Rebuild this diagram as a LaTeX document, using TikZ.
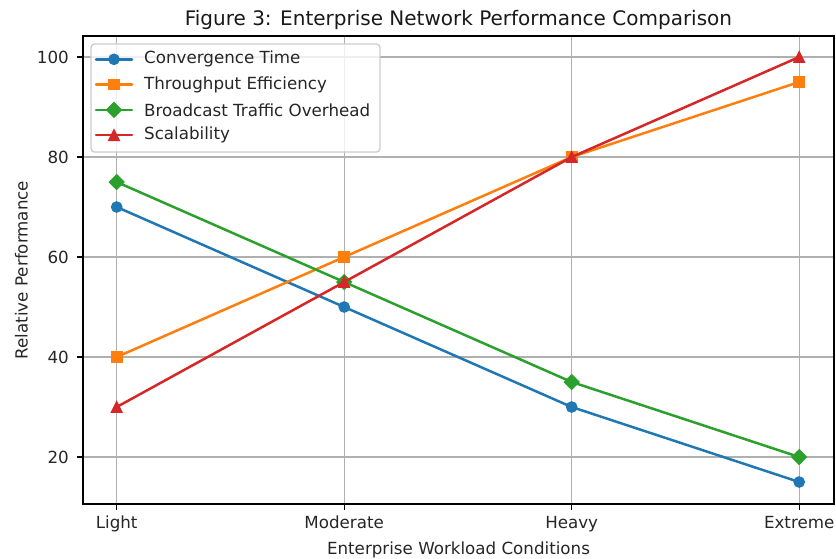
\documentclass[tikz,border=0pt]{standalone}
\usepackage{fontspec}
\setmainfont{DejaVu Sans}
\definecolor{tabblue}{HTML}{1F77B4}
\definecolor{taborange}{HTML}{FF7F0E}
\definecolor{tabgreen}{HTML}{2CA02C}
\definecolor{tabred}{HTML}{D62728}
\definecolor{gridgray}{HTML}{B0B0B0}
\definecolor{leggray}{HTML}{CCCCCC}
\begin{document}
\begin{tikzpicture}[x=1pt,y=-1pt,
  gridline/.style={draw=gridgray,line width=1.2pt},
  spine/.style={draw=black,line width=1.3pt},
  tickmark/.style={draw=black,line width=1.3pt},
  ticklabel/.style={font=\fontsize{16.7}{19}\selectfont,text=black!85,inner sep=0pt},
  series/.style={line width=2.5pt,line join=round,line cap=round},
  markedge/.style={line width=1.6pt,line join=miter}
]
\useasboundingbox (0,0) rectangle (836,558);
% grid
\foreach \gx in {116.7,344.2,571.7,799.2} \draw[gridline] (\gx,36) -- (\gx,504);
\foreach \gy in {57,157,257,357,457} \draw[gridline] (83,\gy) -- (834,\gy);
% named data points
\coordinate (b0) at (116.7,207); \coordinate (b1) at (344.2,307); \coordinate (b2) at (571.7,407); \coordinate (b3) at (799.2,482);
\coordinate (o0) at (116.7,357); \coordinate (o1) at (344.2,257); \coordinate (o2) at (571.7,157); \coordinate (o3) at (799.2,82);
\coordinate (g0) at (116.7,182); \coordinate (g1) at (344.2,282); \coordinate (g2) at (571.7,382); \coordinate (g3) at (799.2,457);
\coordinate (r0) at (116.7,407); \coordinate (r1) at (344.2,282); \coordinate (r2) at (571.7,157); \coordinate (r3) at (799.2,57);
% blue
\draw[series,tabblue] (b0) -- (b1) -- (b2) -- (b3);
\foreach \p in {b0,b1,b2,b3} \filldraw[markedge,tabblue] (\p) circle (5);
% orange
\draw[series,taborange] (o0) -- (o1) -- (o2) -- (o3);
\foreach \p in {o0,o1,o2,o3} \filldraw[markedge,taborange] (\p) ++(-5,-5) rectangle ++(10,10);
% green
\draw[series,tabgreen] (g0) -- (g1) -- (g2) -- (g3);
\foreach \p in {g0,g1,g2,g3} \filldraw[markedge,tabgreen] (\p) ++(0,-7.07) -- ++(7.07,7.07) -- ++(-7.07,7.07) -- ++(-7.07,-7.07) -- cycle;
% red
\draw[series,tabred] (r0) -- (r1) -- (r2) -- (r3);
\foreach \p in {r0,r1,r2,r3} \filldraw[markedge,tabred] (\p) ++(0,-5) -- ++(5,10) -- ++(-10,0) -- cycle;
% spines
\draw[spine] (83,36) rectangle (834,504);
% ticks and labels
\foreach \gx/\lab in {116.7/Light,344.2/Moderate,571.7/Heavy,799.2/Extreme} {
  \draw[tickmark] (\gx,504) -- (\gx,509.8);
  \node[ticklabel,anchor=base] at (\gx,528.5) {\lab};
}
\foreach \gy/\lab in {57/100,157/80,257/60,357/40,457/20} {
  \draw[tickmark] (83,\gy) -- (77.2,\gy);
  \node[ticklabel,anchor=east] at (69,\gy) {\lab};
}
% axis titles
\node[ticklabel,anchor=base] (xl) at (458.5,554) {Enterprise Workload Conditions};
\node[ticklabel,rotate=90,anchor=center] (yl) at (21.5,270) {Relative Performance};
\node[inner sep=0pt,font=\fontsize{20}{23}\selectfont,text=black!90,anchor=base] (title) at (458.5,25.5) {Figure 3: Enterprise Network Performance Comparison};
% legend
\draw[draw=leggray,fill=white,fill opacity=0.8,line width=1.3pt,rounded corners=3.5pt] (91,44) rectangle (380,152);
\coordinate (l0) at (114,59.3); \coordinate (l1) at (114,84.6); \coordinate (l2) at (114,109.9); \coordinate (l3) at (114,135.2);
\draw[series,tabblue] (96,59.3) -- (132,59.3);
\filldraw[markedge,tabblue] (l0) circle (5);
\draw[series,taborange] (96,84.6) -- (132,84.6);
\filldraw[markedge,taborange] (l1) ++(-5,-5) rectangle ++(10,10);
\draw[series,tabgreen] (96,109.9) -- (132,109.9);
\filldraw[markedge,tabgreen] (l2) ++(0,-7.07) -- ++(7.07,7.07) -- ++(-7.07,7.07) -- ++(-7.07,-7.07) -- cycle;
\draw[series,tabred] (96,135.2) -- (132,135.2);
\filldraw[markedge,tabred] (l3) ++(0,-5) -- ++(5,10) -- ++(-10,0) -- cycle;
\node[ticklabel,anchor=west] (t0) at (144,59.3) {Convergence Time};
\node[ticklabel,anchor=west] (t1) at (144,84.6) {Throughput Efficiency};
\node[ticklabel,anchor=west] (t2) at (144,109.9) {Broadcast Traffic Overhead};
\node[ticklabel,anchor=west] (t3) at (144,135.2) {Scalability};
\end{tikzpicture}
\end{document}
